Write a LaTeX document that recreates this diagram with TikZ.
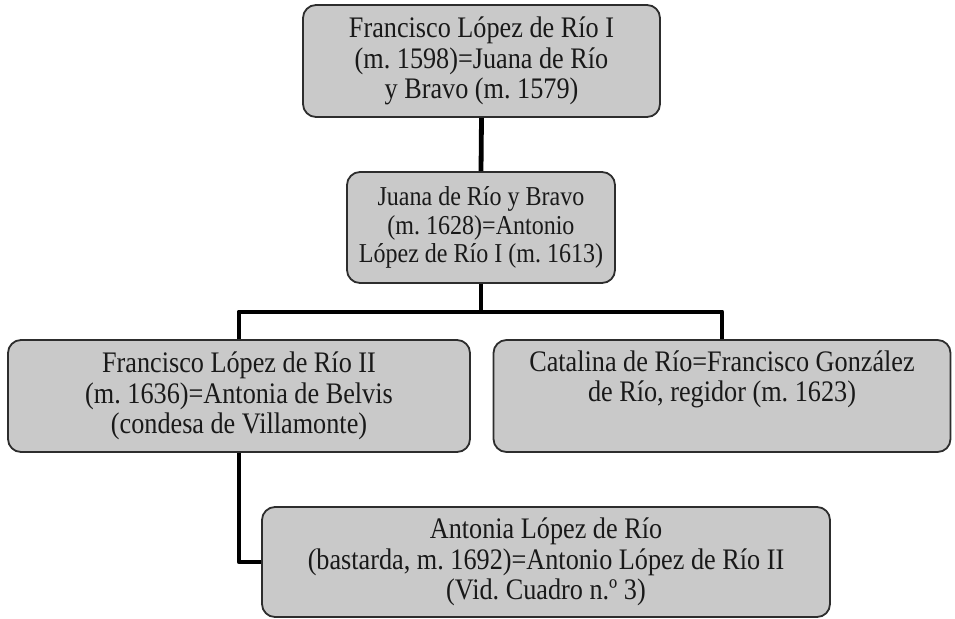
\documentclass[tikz,border=0pt]{standalone}
\usepackage{fontspec}
\setmainfont{Liberation Serif}[FakeStretch=0.88]
\usepackage{tikz}
\definecolor{boxfill}{RGB}{201,201,201}
\definecolor{boxline}{RGB}{45,45,45}
\definecolor{boxtext}{RGB}{25,25,25}
\frenchspacing

\begin{document}
\begin{tikzpicture}[x=1pt,y=-1pt,line join=round,
    person/.style={draw=boxline,line width=1.8pt,fill=boxfill,rounded corners=13pt,
        align=center,text=boxtext,inner sep=0pt,
        font=\fontsize{29.8}{30.5}\selectfont},
    small/.style={font=\fontsize{27.3}{28.5}\selectfont},
    link/.style={line width=4.8pt,black}]
    \useasboundingbox (0,0) rectangle (955,618);
        \node[person,minimum width=357pt,minimum height=112pt] (paco) at (481.5,61)
            {Francisco López de Río I\\(m. 1598)=Juana de Río\\y Bravo (m. 1579)};
        \node[person,small,minimum width=268pt,minimum height=111pt] (juana) at (481,227.5)
            {Juana de Río y Bravo\\(m. 1628)=Antonio\\López de Río I (m. 1613)};
        \node[person,minimum width=462pt,minimum height=112pt] (pacoII) at (239,396)
            {Francisco López de Río II\\(m. 1636)=Antonia de Belvis\\(condesa de Villamonte)};
        \node[person,minimum width=457pt,minimum height=112pt] (catalina) at (722,396)
            {Catalina de Río=Francisco González\\de Río, regidor (m. 1623)\\\strut};
        \node[person,minimum width=568pt,minimum height=110pt] (antonia) at (546,562)
            {Antonia López de Río\\(bastarda, m. 1692)=Antonio López de Río II\\(Vid. Cuadro n.º 3)};
        \draw[link] (paco.south) -- (juana.north);
        \draw[link] (juana.south) -- ++(0,28) coordinate (fork);
        \draw[link] (pacoII.north) |- (fork) -| (catalina.north);
        \draw[link] (pacoII.south) |- (antonia.west);
    \end{tikzpicture}
\end{document}
